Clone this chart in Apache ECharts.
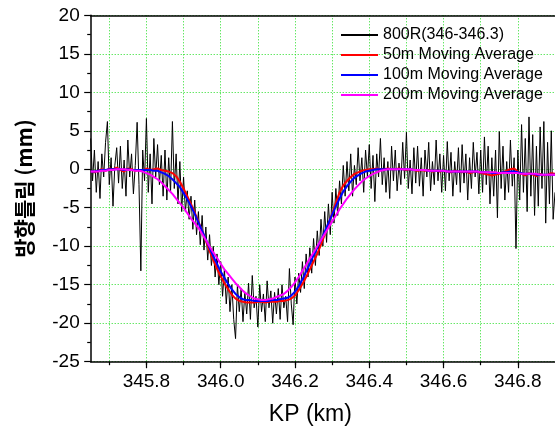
<!DOCTYPE html>
<html>
<head>
<meta charset="utf-8">
<script src="https://cdn.jsdelivr.net/npm/echarts@6/dist/echarts.min.js"></script>
<style>
html,body{margin:0;padding:0;background:#fff;}
#chart{width:555px;height:430px;}
</style>
</head>
<body>
<div id="chart"></div>
<script>
// ---- data ----
const KP_START = 345.65;
const RAW_STEP = 0.005;
const MA_STEP = 0.01;

const seriesNames = ['800R(346-346.3)', '50m Moving Average', '100m Moving Average', '200m Moving Average'];

const rawValues = [
  4.0, -1.5, 2.5, -3.0, 1.0, -3.8, 2.0, -1.0, 3.5, 6.2,
  -2.0, 1.5, -4.8, 0.5, 2.8, -1.8, 3.0, -2.5, 1.2, -3.5,
  3.8, -1.0, 2.0, -3.2, 0.5, 6.1, -2.0, -13.2, 2.5, -1.5,
  6.6, -3.0, 2.0, -4.5, 4.0, -1.0, 3.2, -2.0, 1.8, -3.5,
  2.5, -4.0, 1.5, -3.0, 6.2, -2.5, 2.0, -4.5, 1.0, -5.5,
  -1.0, -5.5, -2.8, -6.5, -3.5, -7.8, -4.0, -8.5, -5.5, -9.8,
  -6.0, -10.5, -7.5, -11.8, -8.5, -12.5, -10.0, -14.0, -11.0, -15.0,
  -12.0, -16.5, -13.0, -17.5, -14.0, -18.5, -15.0, -19.5, -22.0, -15.0,
  -18.5, -15.5, -19.8, -16.0, -18.8, -14.8, -19.5, -13.8, -18.0, -16.5,
  -20.5, -15.0, -18.5, -16.2, -19.8, -14.5, -18.0, -15.8, -20.0, -16.0,
  -18.8, -15.5, -19.5, -15.0, -18.0, -16.5, -19.8, -12.9, -17.5, -20.2,
  -14.0, -17.5, -13.5, -16.0, -12.0, -15.5, -11.0, -14.0, -10.2, -13.5,
  -9.0, -12.5, -8.0, -11.2, -6.5, -10.0, -5.5, -9.5, -4.5, -8.5,
  -3.0, -7.0, -2.5, -6.0, -1.5, -4.5, 0.5, -3.5, 1.0, -2.8,
  2.0, -3.5, 0.5, -2.0, 2.8, -1.5, 1.5, -3.0, 2.5, -1.0,
  3.2, -2.5, 1.8, -4.2, 2.0, -1.0, 4.0, -2.0, 1.5, -3.0,
  1.0, -3.8, 3.0, -1.5, 2.5, -2.8, 0.8, -2.0, 3.5, -1.2,
  4.8, -2.5, 1.2, -3.2, 2.8, -1.8, 3.0, -2.2, 1.5, -3.5,
  2.5, -1.0, 3.5, -2.8, 1.0, -2.0, 3.8, -1.5, 2.0, -3.0,
  1.8, -2.8, 3.6, -1.5, 2.2, -3.5, 1.0, -2.0, 2.8, -3.0,
  3.2, -1.8, 2.0, -4.0, 1.5, -2.5, 3.5, -1.0, 2.2, -3.2,
  2.5, -3.0, 4.2, -2.0, 3.0, -4.5, 1.5, -3.5, 2.5, -6.3,
  4.9, -2.5, 3.0, -4.0, 1.0, -3.0, 3.8, -2.2, 1.5, -10.3,
  2.5, -4.0, 5.8, -3.0, 4.0, -5.5, 6.8, -3.5, 4.5, -6.0,
  3.0, -4.8, 5.5, -2.5, 6.2, -7.0, 3.5, -4.5, 5.0, -6.5,
  -3.0
];

const ma50 = [
  -0.3, -0.4, -0.2, 0.0, -0.2, 0.1, 0.0, 0.2, -0.1, -0.3,
  0.1, 0.0, -0.2, -0.1, -0.2, 0.1, -0.1, 0.0, 0.1, -0.1,
  -0.2, -0.3, -0.5, -0.9, -1.6, -2.5, -3.5, -4.5, -5.6, -6.8,
  -8.0, -9.3, -10.6, -11.8, -12.9, -13.9, -14.8, -15.6, -16.3, -16.8,
  -17.1, -17.2, -17.3, -17.3, -17.3, -17.2, -17.2, -17.3, -17.2, -17.2,
  -17.2, -17.1, -17.1, -17.0, -16.8, -16.4, -15.7, -14.9, -14.0, -13.0,
  -12.0, -11.0, -9.8, -8.5, -7.1, -5.8, -4.4, -3.0, -2.1, -1.5,
  -1.0, -0.6, -0.4, -0.2, -0.1, 0.0, 0.0, 0.1, 0.0, 0.0,
  0.1, 0.0, 0.0, 0.1, 0.0, -0.1, 0.0, -0.1, -0.2, -0.1,
  -0.2, -0.1, -0.3, -0.2, -0.3, -0.2, -0.3, -0.4, -0.2, -0.3,
  -0.4, -0.3, -0.5, -0.4, -0.3, -0.5, -0.6, -0.7, -0.8, -0.7,
  -0.6, -0.4, -0.2, 0.0, 0.1, -0.3, -0.6, -0.8, -0.5, -0.7,
  -0.9, -0.6, -0.8, -0.7, -0.5, -0.6
];

const ma100 = [
  -0.3, -0.3, -0.2, -0.1, -0.1, 0.0, 0.0, 0.0, 0.0, -0.1,
  0.0, -0.1, -0.1, -0.1, -0.1, -0.1, -0.1, -0.2, -0.2, -0.4,
  -0.6, -0.9, -1.3, -1.8, -2.3, -3.1, -3.9, -4.8, -5.8, -6.9,
  -8.0, -9.1, -10.2, -11.3, -12.3, -13.3, -14.1, -14.9, -15.6, -16.2,
  -16.6, -16.9, -17.0, -17.0, -17.1, -17.1, -17.1, -17.1, -17.1, -17.0,
  -17.0, -16.9, -16.8, -16.7, -16.4, -15.9, -15.2, -14.3, -13.3, -12.3,
  -11.2, -10.2, -9.2, -8.1, -7.0, -5.9, -4.8, -3.8, -2.9, -2.2,
  -1.6, -1.1, -0.8, -0.5, -0.3, -0.2, -0.1, 0.0, 0.0, 0.0,
  0.0, 0.0, 0.0, 0.0, 0.0, 0.0, 0.0, -0.1, -0.1, -0.1,
  -0.1, -0.2, -0.2, -0.2, -0.2, -0.2, -0.3, -0.3, -0.3, -0.3,
  -0.3, -0.3, -0.3, -0.3, -0.3, -0.4, -0.4, -0.4, -0.5, -0.5,
  -0.5, -0.4, -0.4, -0.3, -0.3, -0.4, -0.5, -0.6, -0.6, -0.6,
  -0.7, -0.7, -0.7, -0.7, -0.7, -0.7
];

const ma200 = [
  -0.3, -0.3, -0.3, -0.2, -0.2, -0.1, -0.1, 0.0, 0.0, 0.0,
  -0.1, -0.1, -0.2, -0.2, -0.3, -0.5, -0.7, -1.0, -1.3, -1.7,
  -2.2, -2.7, -3.2, -3.8, -4.4, -5.0, -5.7, -6.4, -7.0, -7.6,
  -8.4, -9.2, -10.0, -10.8, -11.5, -12.3, -13.0, -13.6, -14.2, -14.8,
  -15.3, -15.8, -16.2, -16.5, -16.8, -16.9, -17.0, -17.0, -16.9, -16.8,
  -16.6, -16.4, -16.2, -15.8, -15.3, -14.7, -14.0, -13.2, -12.4, -11.6,
  -10.8, -10.0, -9.2, -8.4, -7.6, -6.8, -6.0, -5.2, -4.5, -3.8,
  -3.2, -2.6, -2.1, -1.6, -1.2, -0.9, -0.6, -0.4, -0.2, -0.1,
  0.0, 0.0, 0.0, 0.0, 0.0, 0.0, 0.0, -0.1, -0.1, -0.1,
  -0.1, -0.2, -0.2, -0.2, -0.2, -0.2, -0.3, -0.3, -0.3, -0.3,
  -0.3, -0.3, -0.3, -0.3, -0.3, -0.4, -0.4, -0.4, -0.4, -0.4,
  -0.5, -0.5, -0.5, -0.5, -0.5, -0.5, -0.6, -0.6, -0.6, -0.6,
  -0.6, -0.7, -0.7, -0.7, -0.7, -0.7
];

const xMajorTicks = [345.8, 346.0, 346.2, 346.4, 346.6, 346.8];
const xAllTicks = [345.7, 345.8, 345.9, 346.0, 346.1, 346.2, 346.3, 346.4, 346.5, 346.6, 346.7, 346.8];

// ---- build ----
function pairs(values, step) {
  return values.map((v, i) => [+(KP_START + i * step).toFixed(4), v]);
}

const FONT = "'Liberation Sans', Arial, sans-serif";
const X_MIN = 345.65, X_MAX = 346.9;

const chart = echarts.init(document.getElementById('chart'), null, {renderer: 'canvas'});
chart.setOption({
  animation: false,
  backgroundColor: '#fff',
  grid: {left: 90.7, right: 0, top: 15.3, bottom: 68.3, containLabel: false, outerBoundsMode: 'none'},
  legend: {
    orient: 'vertical', left: 340, top: 27, padding: 0,
    itemWidth: 37, itemHeight: 14, itemGap: 4,
    itemStyle: {opacity: 0, borderWidth: 0},
    textStyle: {fontSize: 16, color: '#000', fontFamily: FONT},
    data: seriesNames
  },
  xAxis: [
    {
      type: 'value', min: X_MIN, max: X_MAX, position: 'bottom',
      axisLine: {show: true, onZero: false, lineStyle: {color: '#000', width: 1.5}},
      axisTick: {show: true, customValues: xMajorTicks, length: 6.5, lineStyle: {color: '#000', width: 1.2}},
      axisLabel: {show: true, customValues: xMajorTicks, formatter: v => Number(v).toFixed(1),
        fontSize: 19, color: '#000', fontFamily: FONT, margin: 11},
      splitLine: {show: false},
      name: 'KP (km)', nameLocation: 'middle', nameGap: 41,
      nameTextStyle: {fontSize: 23, color: '#000', fontFamily: FONT, padding: [0, 25, 0, 0]}
    },
    {
      type: 'value', min: X_MIN, max: X_MAX, position: 'bottom',
      axisLine: {show: false, onZero: false},
      axisTick: {show: true, customValues: xAllTicks, length: 3.5, lineStyle: {color: '#000', width: 1.2}},
      axisLabel: {show: false},
      splitLine: {show: true, lineStyle: {color: '#22dd22', width: 1, type: [1, 2]}}
    },
    {
      type: 'value', min: X_MIN, max: X_MAX, position: 'top',
      axisLine: {show: true, onZero: false, lineStyle: {color: '#000', width: 1.5}},
      axisTick: {show: false}, axisLabel: {show: false}, splitLine: {show: false}
    }
  ],
  yAxis: {
    type: 'value', min: -25, max: 20, interval: 5,
    axisLine: {show: true, onZero: false, lineStyle: {color: '#000', width: 1.5}},
    axisTick: {show: true, length: 6.5, lineStyle: {color: '#000', width: 1.2}},
    minorTick: {show: true, splitNumber: 2, length: 3.5, lineStyle: {color: '#000', width: 1.2}},
    axisLabel: {fontSize: 19, color: '#000', fontFamily: FONT, margin: 11},
    splitLine: {show: true, lineStyle: {color: '#22dd22', width: 1, type: [1, 2]}},
    name: '방향틀림 (mm)', nameLocation: 'middle', nameGap: 56,
    nameTextStyle: {fontSize: 21, fontWeight: 'bold', color: '#000', fontFamily: "'Noto Sans CJK KR', sans-serif"}
  },
  series: [
    {name: seriesNames[0], type: 'line', xAxisIndex: 0, data: pairs(rawValues, RAW_STEP), symbol: 'none',
      lineStyle: {color: '#000', width: 1}, itemStyle: {color: '#000'}},
    {name: seriesNames[1], type: 'line', xAxisIndex: 0, data: pairs(ma50, MA_STEP), symbol: 'none',
      lineStyle: {color: '#ff0000', width: 2}, itemStyle: {color: '#ff0000'}},
    {name: seriesNames[2], type: 'line', xAxisIndex: 0, data: pairs(ma100, MA_STEP), symbol: 'none',
      lineStyle: {color: '#0000ff', width: 2}, itemStyle: {color: '#0000ff'}},
    {name: seriesNames[3], type: 'line', xAxisIndex: 0, data: pairs(ma200, MA_STEP), symbol: 'none',
      lineStyle: {color: '#ff00ff', width: 2}, itemStyle: {color: '#ff00ff'}}
  ]
});
</script>
</body>
</html>
